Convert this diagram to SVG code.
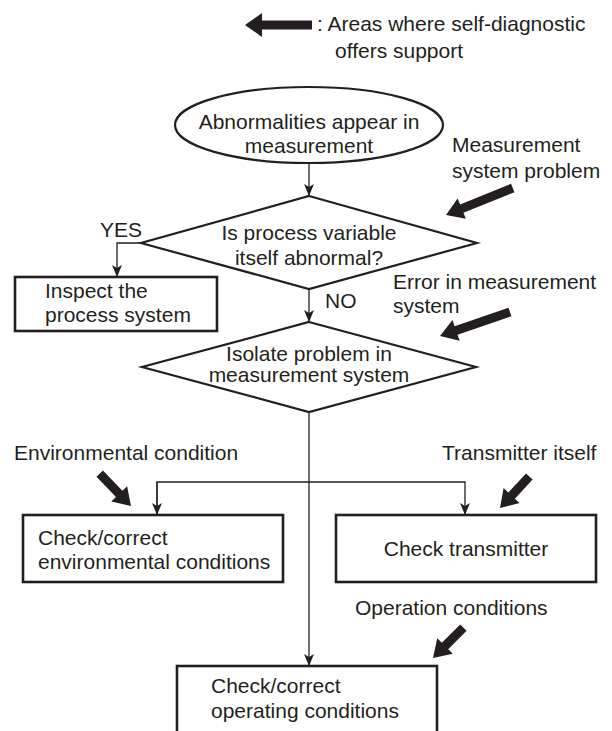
<svg xmlns="http://www.w3.org/2000/svg" width="612" height="731" viewBox="0 0 612 731">
<defs>
<style>
text{font-family:"Liberation Sans",Arial,sans-serif;font-size:21px;fill:#231f20}
.box{fill:#fff;stroke:#231f20;stroke-width:2.6}
.dia{fill:#fff;stroke:#231f20;stroke-width:2.2}
.con{fill:none;stroke:#231f20;stroke-width:1.3}
.big{fill:#231f20}
</style>
<marker id="ah" markerWidth="12" markerHeight="12" viewBox="0 0 12 12" refX="12" refY="6" orient="auto" markerUnits="userSpaceOnUse">
<path d="M0,1 L12,6 L0,11 L3,6 Z" fill="#231f20"/>
</marker>
</defs>
<rect width="612" height="731" fill="#fff"/>

<g id="legend">
<path class="big" transform="translate(245,25) rotate(180)" d="M0,0 L-17,-12 L-17,-4.5 L-67,-4.5 L-67,4.5 L-17,4.5 L-17,12 Z"/>
<text x="317" y="31">: Areas where self-diagnostic</text>
<text x="335" y="58">offers support</text>
</g>

<g id="connectors">
<line class="con" x1="309" y1="163" x2="309" y2="196" marker-end="url(#ah)"/>
<polyline class="con" points="142,243 117,243 117,277" marker-end="url(#ah)"/>
<line class="con" x1="309" y1="289" x2="309" y2="322" marker-end="url(#ah)"/>
<line class="con" x1="309" y1="412" x2="309" y2="666" marker-end="url(#ah)"/>
<polyline class="con" points="157,515 157,482 465,482 465,515" marker-end="url(#ah)"/>
<line class="con" x1="157" y1="482" x2="157" y2="515" marker-end="url(#ah)"/>
</g>

<g id="start">
<ellipse class="dia" cx="309" cy="125" rx="134" ry="38"/>
<text x="309" y="129" text-anchor="middle">Abnormalities appear in</text>
<text x="309" y="153" text-anchor="middle">measurement</text>
</g>

<g id="label-measurement">
<text x="452" y="152">Measurement</text>
<text x="452" y="178">system problem</text>
<path class="big" transform="translate(446,215) rotate(158)" d="M0,0 L-17,-11 L-17,-4.5 L-72,-4.5 L-72,4.5 L-17,4.5 L-17,11 Z"/>
</g>

<g id="decision1">
<polygon class="dia" points="309,196 477,243 309,289 141,243"/>
<text x="309" y="240" text-anchor="middle">Is process variable</text>
<text x="309" y="265" text-anchor="middle">itself abnormal?</text>
</g>
<text x="100" y="237">YES</text>
<text x="325" y="308">NO</text>

<g id="inspect">
<rect class="box" x="15" y="277" width="202" height="54"/>
<text x="45" y="298">Inspect the</text>
<text x="45" y="322">process system</text>
</g>

<g id="label-error">
<text x="393" y="289">Error in measurement</text>
<text x="393" y="313">system</text>
<path class="big" transform="translate(440,336) rotate(161)" d="M0,0 L-17,-11 L-17,-4.5 L-74,-4.5 L-74,4.5 L-17,4.5 L-17,11 Z"/>
</g>

<g id="decision2">
<polygon class="dia" points="309,322 476,367 309,412 142,367"/>
<text x="309" y="361" text-anchor="middle">Isolate problem in</text>
<text x="309" y="382" text-anchor="middle">measurement system</text>
</g>

<g id="label-env">
<text x="14" y="460">Environmental condition</text>
<path class="big" transform="translate(131,506) rotate(46)" d="M0,0 L-17,-11 L-17,-4.5 L-45,-4.5 L-45,4.5 L-17,4.5 L-17,11 Z"/>
</g>

<g id="label-transmitter">
<text x="442" y="460">Transmitter itself</text>
<path class="big" transform="translate(500,508) rotate(133)" d="M0,0 L-17,-11 L-17,-4.5 L-43,-4.5 L-43,4.5 L-17,4.5 L-17,11 Z"/>
</g>

<g id="env">
<rect class="box" x="23" y="515" width="260" height="67"/>
<text x="38" y="545">Check/correct</text>
<text x="38" y="569">environmental conditions</text>
</g>

<g id="transmitter">
<rect class="box" x="336" y="515" width="260" height="67"/>
<text x="466" y="556" text-anchor="middle">Check transmitter</text>
</g>

<g id="label-operation">
<text x="355" y="615">Operation conditions</text>
<path class="big" transform="translate(433,658) rotate(135)" d="M0,0 L-17,-11 L-17,-4.5 L-43,-4.5 L-43,4.5 L-17,4.5 L-17,11 Z"/>
</g>

<g id="operating">
<rect class="box" x="177" y="666" width="260" height="80"/>
<text x="211" y="693">Check/correct</text>
<text x="211" y="718">operating conditions</text>
</g>
</svg>
